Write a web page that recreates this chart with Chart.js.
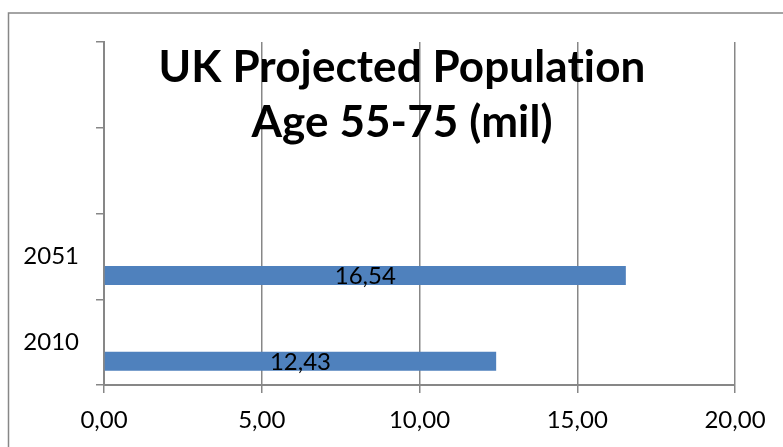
<!DOCTYPE html>
<html>
<head>
<meta charset="utf-8">
<script src="https://cdn.jsdelivr.net/npm/chart.js@4.4.1/dist/chart.umd.min.js"></script>
<style>
  html, body { margin: 0; padding: 0; background: #ffffff; }
  #wrap { width: 783px; height: 447px; position: relative; }
</style>
</head>
<body>
<div id="wrap"><canvas id="chart" width="783" height="447"></canvas></div>
<script>
// Categories run bottom-to-top; the two upper slots are empty.
const categories = ['2010', '2051', '', ''];
// Population aged 55-75, millions.
const populationMil = [12.43, 16.54, null, null];
// Two further series in the group carry no values.
const emptySeriesA = [null, null, null, null];
const emptySeriesB = [null, null, null, null];
const valueTicks = [0, 5, 10, 15, 20];
const titleLines = ['UK Projected Population', 'Age 55-75 (mil)'];

const AXIS_GREY = '#878787';
const BAR_BLUE = '#4F81BD';
const FONT = 'Lato, "Open Sans", sans-serif';

const fmt = v => Number(v).toFixed(2).replace('.', ',');

// White background plus the outer frame of the chart object.
const frame = {
  id: 'frame',
  beforeDraw(chart) {
    const ctx = chart.ctx;
    ctx.save();
    ctx.fillStyle = '#ffffff';
    ctx.fillRect(0, 0, chart.width, chart.height);
    ctx.strokeStyle = AXIS_GREY;
    ctx.lineWidth = 1.5;
    ctx.strokeRect(8.5, 13, chart.width + 20, chart.height + 20);
    ctx.restore();
  }
};

// Value labels centred on each bar.
const barValueLabels = {
  id: 'barValueLabels',
  afterDatasetsDraw(chart) {
    const ctx = chart.ctx;
    ctx.save();
    ctx.font = '24px ' + FONT;
    ctx.fillStyle = '#000000';
    ctx.textAlign = 'center';
    ctx.textBaseline = 'middle';
    chart.data.datasets.forEach((ds, di) => {
      const meta = chart.getDatasetMeta(di);
      meta.data.forEach((bar, i) => {
        const v = ds.data[i];
        if (v === null || v === undefined) return;
        const p = bar.getProps(['x', 'y', 'base'], true);
        ctx.fillText(fmt(v), (p.x + p.base) / 2, p.y + 1);
      });
    });
    ctx.restore();
  }
};

// Two-line title laid over the top of the plot area.
const overlayTitle = {
  id: 'overlayTitle',
  afterDraw(chart) {
    const ctx = chart.ctx;
    ctx.save();
    ctx.font = 'bold 44px ' + FONT;
    if ('letterSpacing' in ctx) ctx.letterSpacing = '0.1px';
    ctx.fillStyle = '#000000';
    ctx.textAlign = 'center';
    ctx.textBaseline = 'alphabetic';
    ctx.fillText(titleLines[0], 402, 82);
    ctx.fillText(titleLines[1], 402, 137);
    ctx.restore();
  }
};

new Chart(document.getElementById('chart'), {
  type: 'bar',
  data: {
    labels: categories,
    datasets: [
      { label: 'Series 3', data: emptySeriesB, backgroundColor: BAR_BLUE },
      { label: 'Series 2', data: emptySeriesA, backgroundColor: BAR_BLUE },
      { label: 'Population 55-75', data: populationMil, backgroundColor: BAR_BLUE }
    ]
  },
  options: {
    indexAxis: 'y',
    responsive: false,
    animation: false,
    devicePixelRatio: 1,
    categoryPercentage: 0.6667,
    barPercentage: 1.0,
    layout: { padding: { top: 42, right: 48, left: 0, bottom: 0 } },
    plugins: {
      legend: { display: false },
      tooltip: { enabled: false },
      title: { display: false }
    },
    scales: {
      x: {
        type: 'linear',
        min: 0,
        max: 20,
        afterBuildTicks: s => { s.ticks = valueTicks.map(v => ({ value: v })); },
        afterFit: s => { s.height = 62; },
        ticks: {
          callback: v => fmt(v),
          color: '#000000',
          font: { family: FONT, size: 24 },
          padding: 13,
          maxRotation: 0
        },
        grid: { color: AXIS_GREY, lineWidth: 1.5, tickLength: 8, drawTicks: true },
        border: { display: true, color: AXIS_GREY, width: 2 }
      },
      y: {
        type: 'category',
        reverse: true,
        afterFit: s => { s.width = 104; },
        ticks: {
          color: '#000000',
          font: { family: FONT, size: 24 },
          padding: 17
        },
        grid: { offset: true, drawOnChartArea: false, color: AXIS_GREY, lineWidth: 1.5, tickLength: 8 },
        border: { display: true, color: AXIS_GREY, width: 2 }
      }
    }
  },
  plugins: [frame, barValueLabels, overlayTitle]
});
</script>
</body>
</html>
